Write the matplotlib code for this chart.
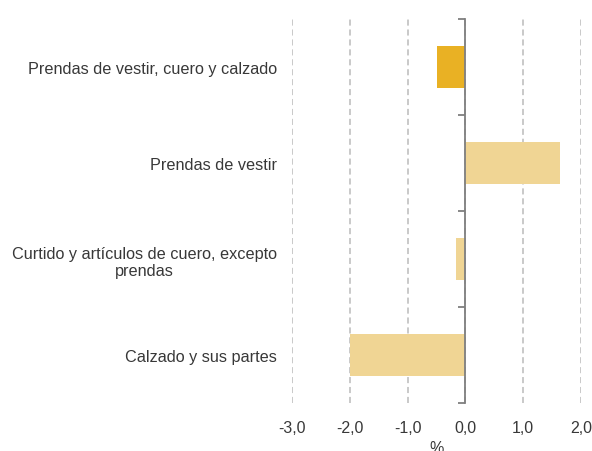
import matplotlib
matplotlib.use("Agg")
import matplotlib.pyplot as plt
import numpy as np

plt.rcParams["font.family"] = ["Liberation Sans", "DejaVu Sans"]

CATEGORIES = [
    "Prendas de vestir, cuero y calzado",
    "Prendas de vestir",
    "Curtido y artículos de cuero, excepto\nprendas",
    "Calzado y sus partes",
]
VALUES = [-0.50, 1.64, -0.16, -2.0]
COLORS = ["#E9B124", "#F0D594", "#F0D594", "#F0D594"]
XTICKS = [-3, -2, -1, 0, 1, 2]
XTICK_LABELS = ["-3,0", "-2,0", "-1,0", "0,0", "1,0", "2,0"]

TEXT = "#383838"

fig = plt.figure(figsize=(5.92, 4.52), dpi=100)
ax = fig.add_axes([292 / 592, 1 - 404 / 452, 289 / 592, 384 / 452])

y = np.arange(len(CATEGORIES))
ax.barh(y, VALUES, height=0.43, color=COLORS, zorder=3)

ax.set_xlim(-3, 2)
ax.set_ylim(len(CATEGORIES) - 0.5, -0.5)

ax.set_xticks(XTICKS)
ax.set_xticklabels(XTICK_LABELS, fontsize=11.5, color=TEXT)
ax.tick_params(axis="x", length=0, pad=12)
ax.grid(axis="x", color="#BBBBBB", linestyle=(0, (4, 2.5)), linewidth=1.1, zorder=0)

ax.set_yticks(y)
ax.set_yticklabels(CATEGORIES, fontsize=11.7, color=TEXT)
for lab in ax.get_yticklabels():
    lab.set_multialignment("center")
ax.tick_params(axis="y", length=0, pad=11)

for s in ax.spines.values():
    s.set_visible(False)

ax.set_xlabel("%", fontsize=11.5, color=TEXT, labelpad=4)

# zero line with boundary ticks
ax2 = ax.twinx()
ax2.set_ylim(ax.get_ylim())
for s in ["top", "bottom", "right"]:
    ax2.spines[s].set_visible(False)
ax2.spines["left"].set_position(("data", 0))
ax2.spines["left"].set_color("#7F7F7F")
ax2.spines["left"].set_linewidth(1.3)
ax2.spines["left"].set_zorder(4)
ax2.yaxis.set_ticks_position("left")
ax2.set_yticks(np.arange(len(CATEGORIES) + 1) - 0.5)
ax2.set_yticklabels([])
ax2.tick_params(axis="y", length=5, width=1.3, color="#7F7F7F", direction="out")

fig.savefig("out.png", dpi=100)
